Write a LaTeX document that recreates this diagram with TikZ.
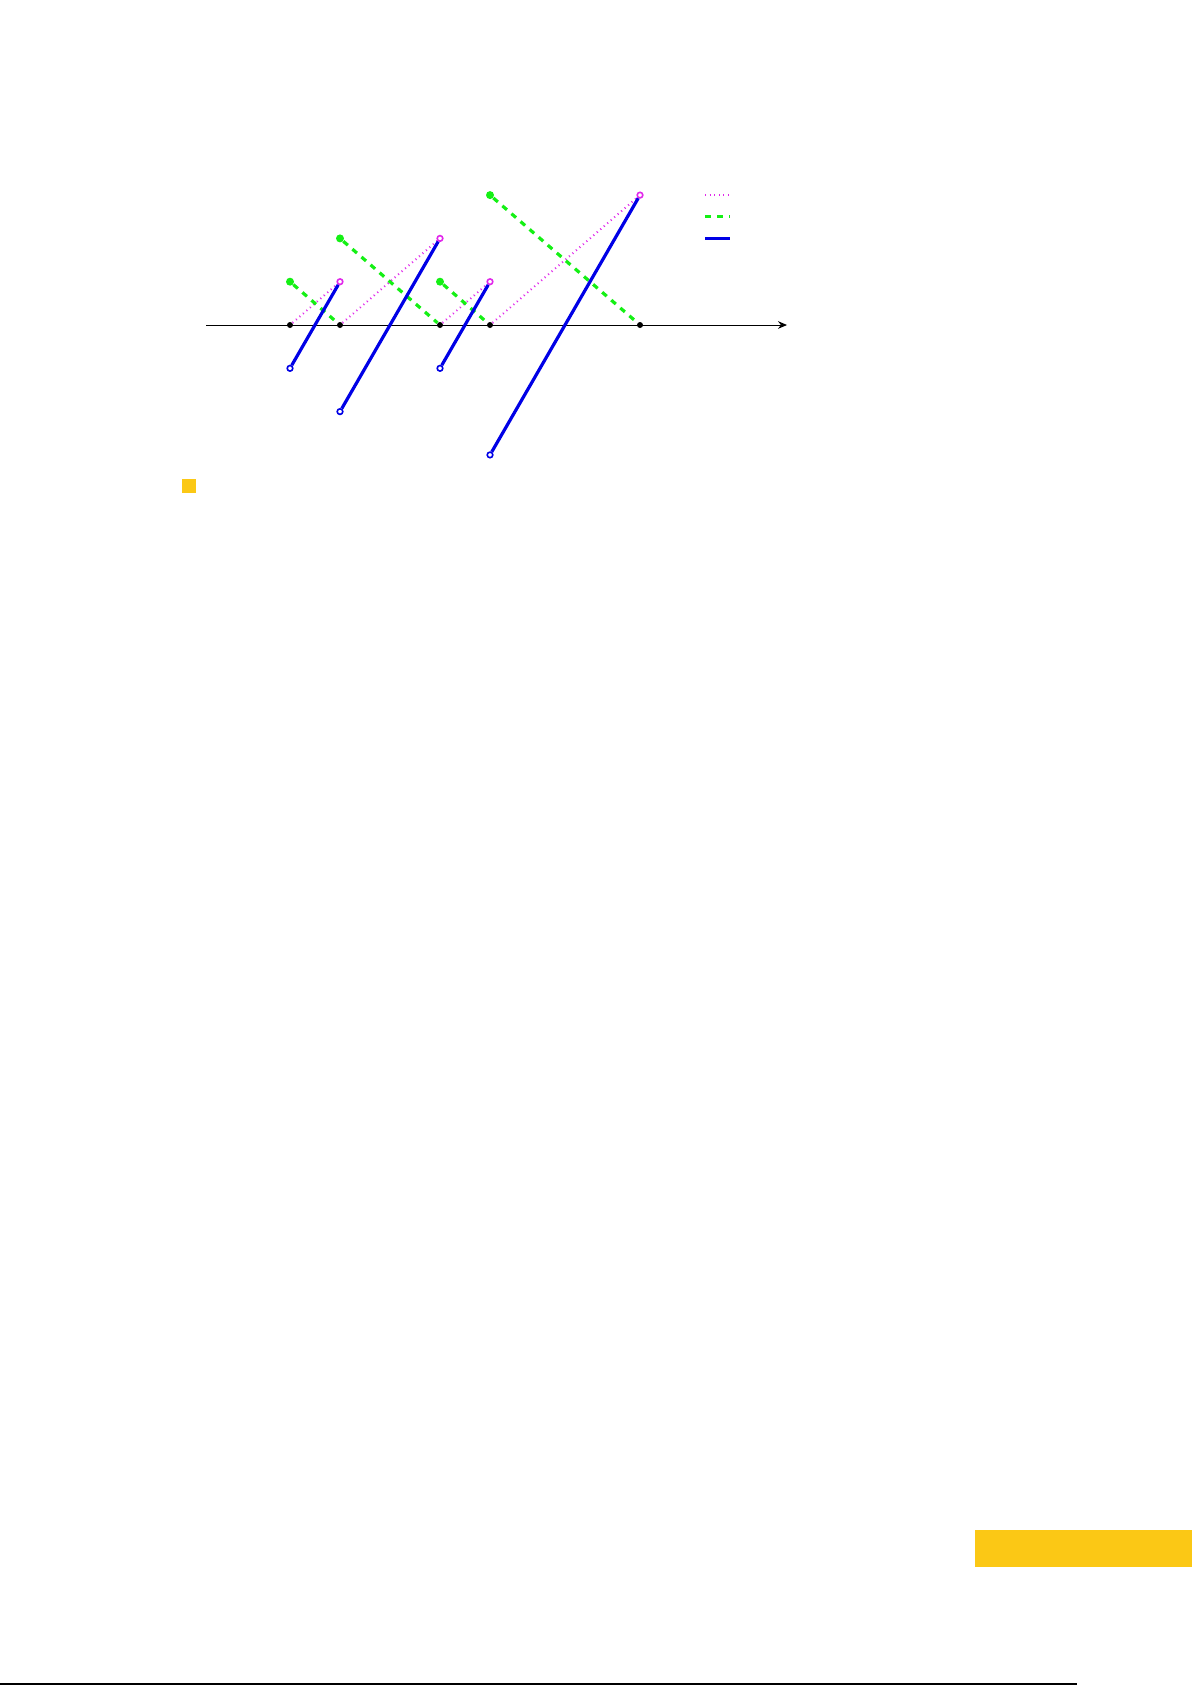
\documentclass[tikz,border=0pt]{standalone}
\usetikzlibrary{arrows.meta}
\definecolor{myyellow}{RGB}{251,200,21}
\definecolor{mymagenta}{RGB}{225,40,235}
\definecolor{mygreencol}{RGB}{20,240,20}
\definecolor{mybluecol}{RGB}{0,0,230}
\begin{document}
\begin{tikzpicture}[x=0.5bp,y=-0.5bp]
\tikzstyle{myaxis} = [black, line width=0.5bp, -{Stealth[length=4.5bp,width=3.8bp]}] % the time axis
\tikzstyle{mydot} = [circle, minimum size=3bp, fill, inner sep=0pt] % point on the axis
\tikzstyle{mygreen} = [circle, minimum size=4bp, fill=mygreencol, inner sep=0pt] % start of a dashed segment
\tikzstyle{myring} = [circle, minimum size=2.8bp, draw, line width=0.8bp, inner sep=0pt] % open end point
\tikzstyle{mydotted} = [mymagenta, line width=1bp, dash pattern=on 0.5bp off 1.8bp]
\tikzstyle{mydashed} = [mygreencol, line width=1.6bp, dash pattern=on 3bp off 3bp]
\tikzstyle{mysolid} = [mybluecol, line width=1.6bp]

\useasboundingbox (0,0) rectangle (1192,1685);
% page decoration
\fill[myyellow] (182,479) rectangle (196,493);
\fill[myyellow] (975,1530) rectangle (1192,1567);
\draw[line width=0.6bp] (0,1684) -- (1077,1684);

\begin{scope}[shift={(290,325)}, x=25bp, y=21.65bp]
\coordinate (xs) at (-1.68,0);
\coordinate (xe) at (9.94,0);
\draw[myaxis] (xs) -- (xe);
%
\foreach \t [count=\i from 0] in {0,1,3,4,7}
	\node[mydot] (P\i) at (\t,0) {};
%
\foreach \a/\b/\h [count=\i from 0] in {0/1/1, 1/3/2, 3/4/1, 4/7/3} {
	\node[mygreen] (G\i) at (\a,\h) {};
	\node[myring, mymagenta] (M\i) at (\b,\h) {};
	\node[myring, mybluecol] (B\i) at (\a,-\h) {};
}
%
\foreach \i [evaluate=\i as \j using int(\i+1)] in {0,...,3} {
	\draw[mydotted] (P\i) -- (M\i);
	\draw[mydashed] (G\i) -- (P\j);
	\draw[mysolid] (B\i) -- (M\i);
}
% legend
\foreach \s/\y [count=\k] in {mydotted/3, mydashed/2.5, mysolid/2} {
	\coordinate (L\k a) at (8.3,\y);
	\coordinate (L\k b) at (8.8,\y);
	\draw[\s] (L\k a) -- (L\k b);
}
\end{scope}
\end{tikzpicture}
\end{document}
